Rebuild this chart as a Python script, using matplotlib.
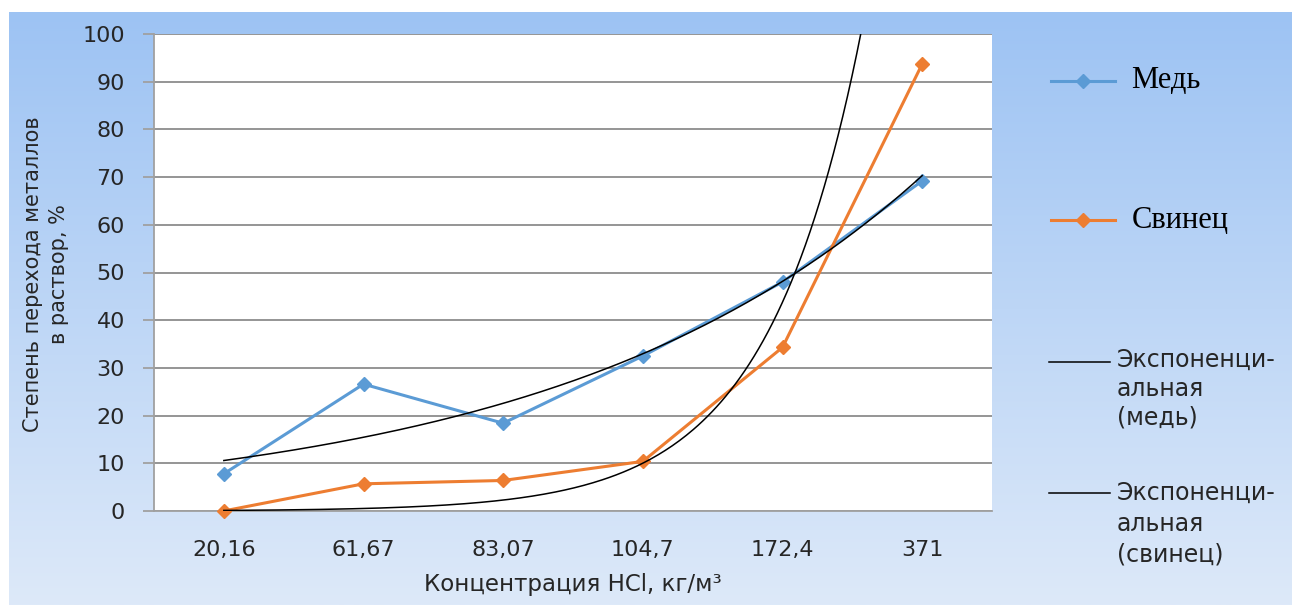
import numpy as np
import matplotlib.pyplot as plt
from matplotlib.lines import Line2D
from matplotlib.colors import LinearSegmentedColormap

# данные
conc = ['20,16', '61,67', '83,07', '104,7', '172,4', '371']
copper = [7.8, 26.6, 18.4, 32.5, 48.0, 69.2]
lead = [0.01, 5.7, 6.4, 10.4, 34.3, 93.7]

W, H = 1292, 605
blue = '#5B9BD5'
orange = '#ED7D31'
txt = '#262626'


def fpos(x, y):
    # пиксели -> доли фигуры
    return x / W, 1 - y / H


def exp_trend(vals, n=300):
    # экспоненциальная линия тренда как в Excel (x = 1..n)
    x = np.arange(1, len(vals) + 1)
    b, ln_a = np.polyfit(x, np.log(vals), 1)
    xs = np.linspace(1, len(vals), n)
    return xs - 1, np.exp(ln_a) * np.exp(b * xs)


plt.rcParams['font.family'] = ['DejaVu Sans']

fig = plt.figure(figsize=(W / 100, H / 100), dpi=100)

# градиентный фон
bg = fig.add_axes([9 / W, 0, 1 - 9 / W, (H - 12) / H], zorder=0)
cmap = LinearSegmentedColormap.from_list('bg', ['#DDE9F9', '#9DC3F3'])
bg.imshow(np.linspace(0, 1, 256).reshape(-1, 1), aspect='auto', cmap=cmap,
          origin='lower', extent=[0, 1, 0, 1])
bg.axis('off')

ax = fig.add_axes([154 / W, 1 - 511 / H, (992 - 154) / W, (511 - 34) / H], zorder=1)
ax.set_facecolor('white')

x = np.arange(len(conc))
ax.plot(x, copper, color=blue, lw=2.2, marker='D', ms=7, clip_on=False, zorder=3)
ax.plot(x, lead, color=orange, lw=2.2, marker='D', ms=7, clip_on=False, zorder=3)

tx, ty = exp_trend(copper)
ax.plot(tx, ty, color='black', lw=1.1, zorder=4)
tx, ty = exp_trend(lead)
ax.plot(tx, ty, color='black', lw=1.1, zorder=4)

ax.set_xlim(-0.5, len(conc) - 0.5)
ax.set_ylim(0, 100)
ax.set_yticks(np.arange(0, 101, 10))
ax.set_xticks(x)
ax.set_xticklabels(conc)
ax.grid(axis='y', color='#8C8C8C', lw=1.3)
ax.set_axisbelow(True)

for s in ['top', 'right']:
    ax.spines[s].set_visible(False)
for s in ['left', 'bottom']:
    ax.spines[s].set_color('#A0A0A0')
    ax.spines[s].set_linewidth(1.3)

ax.tick_params(axis='y', length=8, width=1.3, color='#A0A0A0', pad=13,
               labelsize=16, labelcolor=txt)
ax.tick_params(axis='x', length=0, pad=21, labelsize=16, labelcolor=txt)

ax.set_xlabel('Концентрация HCl, кг/м³', fontsize=16.5, color=txt, labelpad=9)
fig.text(*fpos(46, 274), 'Степень перехода металлов\nв раствор, %', rotation=90,
         ha='center', va='center', multialignment='center', fontsize=15,
         color=txt, linespacing=1.35)

# легенда
def legend_item(y, x0, x1, tx, ty, label, style, **kw):
    xa, ya = fpos(x0, y)
    xb, _ = fpos(x1, y)
    fig.add_artist(Line2D([xa, xb], [ya, ya], transform=fig.transFigure, **style))
    if style['color'] != 'black':
        fig.add_artist(Line2D([(xa + xb) / 2], [ya], transform=fig.transFigure,
                              color=style['color'], marker='D', ms=7, lw=0))
    fig.text(*fpos(tx, ty), label, **kw)

legend_item(81, 1051, 1115, 1131, 81, 'Медь', {'color': blue, 'lw': 2.2},
            family='Liberation Serif', fontsize=22, va='center')
legend_item(220, 1051, 1115, 1132, 220, 'Свинец', {'color': orange, 'lw': 2.2},
            family='Liberation Serif', fontsize=22, va='center')
legend_item(362, 1049, 1110, 1117, 348, 'Экспоненци-\nальная\n(медь)',
            {'color': 'black', 'lw': 1.1}, fontsize=17, va='top', linespacing=1.25,
            color=txt)
legend_item(493, 1049, 1110, 1117, 481, 'Экспоненци-\nальная\n(свинец)',
            {'color': 'black', 'lw': 1.1}, fontsize=17, va='top', linespacing=1.35,
            color=txt)

fig.savefig('out.png', dpi=100)
